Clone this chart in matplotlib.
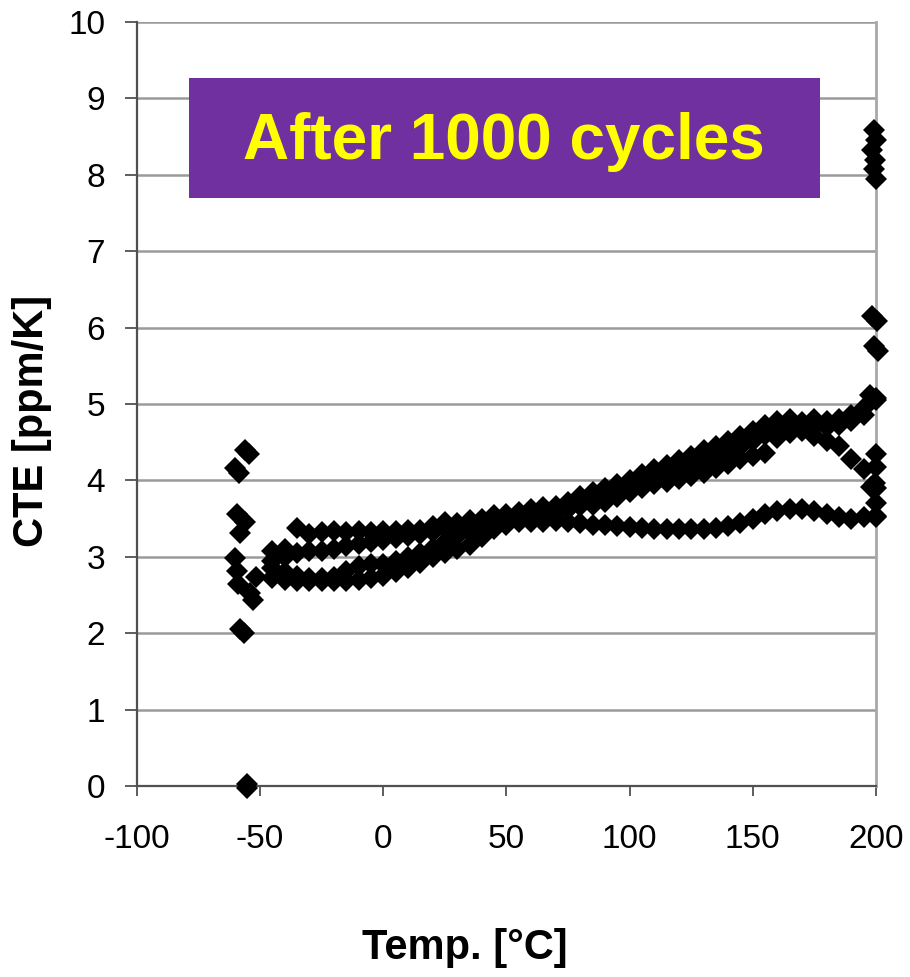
import numpy as np
import matplotlib
matplotlib.use("Agg")
import matplotlib.pyplot as plt
from matplotlib.patches import Rectangle

plt.rcParams['font.family'] = ['Liberation Sans', 'DejaVu Sans']
plt.rcParams['axes.unicode_minus'] = False

# temperature grid of the measured curves [°C]
temps = [-45, -40, -35, -30, -25, -20, -15, -10, -5, 0,
         5, 10, 15, 20, 25, 30, 35, 40, 45, 50,
         55, 60, 65, 70, 75, 80, 85, 90, 95, 100,
         105, 110, 115, 120, 125, 130, 135, 140, 145, 150,
         155, 160, 165, 170, 175, 180, 185, 190, 195, 200]

# upper curve
cte_a = [3.08, 3.10, 3.38, 3.30, 3.32, 3.34, 3.33, 3.34, 3.33, 3.34,
         3.34, 3.35, 3.35, 3.40, 3.45, 3.44, 3.48, 3.50, 3.55, 3.56,
         3.58, 3.62, 3.65, 3.66, 3.72, 3.80, 3.85, 3.90, 3.95, 4.00,
         4.08, 4.15, 4.20, 4.27, 4.32, 4.40, 4.45, 4.52, 4.58, 4.65,
         4.72, 4.78, 4.80, 4.76, 4.80, 4.78, 4.80, 4.85, 4.95, 5.08]

# second curve (turns down near 200)
cte_d = [2.95, 3.00, 3.05, 3.07, 3.08, 3.10, 3.14, 3.17, 3.20, 3.22,
         3.25, 3.27, 3.30, 3.33, 3.36, 3.40, 3.42, 3.45, 3.48, 3.50,
         3.52, 3.55, 3.56, 3.58, 3.62, 3.66, 3.68, 3.72, 3.78, 3.85,
         3.90, 3.95, 3.98, 4.02, 4.06, 4.10, 4.16, 4.22, 4.28, 4.32,
         4.36, 4.55, 4.62, 4.65, 4.58, 4.52, 4.45, 4.28, 4.15, 3.90]

# third curve
cte_e = [2.85, 2.80, 2.75, 2.72, 2.72, 2.74, 2.82, 2.88, 2.90, 2.90,
         2.95, 3.00, 3.05, 3.12, 3.20, 3.27, 3.33, 3.40, 3.45, 3.48,
         3.50, 3.52, 3.55, 3.58, 3.62, 3.70, 3.76, 3.82, 3.87, 3.92,
         3.98, 4.05, 4.10, 4.15, 4.20, 4.26, 4.32, 4.38, 4.44, 4.52,
         4.60, 4.68, 4.70, 4.72, 4.70, 4.70, 4.72, 4.78, 4.85, np.nan]

# lower curve
cte_b = [2.72, 2.70, 2.68, 2.68, 2.68, 2.68, 2.68, 2.70, 2.72, 2.75,
         2.80, 2.85, 2.92, 3.00, 3.05, 3.10, 3.16, 3.26, 3.36, 3.42,
         3.46, 3.46, 3.45, 3.47, 3.46, 3.44, 3.42, 3.42, 3.40, 3.39,
         3.38, 3.37, 3.37, 3.36, 3.36, 3.37, 3.38, 3.40, 3.44, 3.50,
         3.56, 3.60, 3.63, 3.63, 3.60, 3.56, 3.52, 3.50, 3.52, 3.54]

# scattered points at the temperature extremes
end_temps = [-56, -54.5, -60, -58.5, -59.5, -56, -58, -60, -59.5, -59, -54, -53, -51.5,
             -58, -56.5, -55.5, -55.5,
             199, 200, 198.5, 199.5, 199, 200, 198.5, 200.5, 199, 201, 197.5, 200,
             200, 200, 199.5, 198, 200, 200]
end_cte = [4.40, 4.34, 4.16, 4.10, 3.56, 3.45, 3.31, 2.98, 2.82, 2.65, 2.52, 2.43, 2.74,
           2.06, 2.00, 0.03, -0.03,
           8.58, 8.45, 8.33, 8.20, 8.08, 7.95, 6.15, 6.08, 5.76, 5.70, 5.12, 5.05,
           4.35, 4.17, 3.96, 3.91, 3.70, 3.52]

fig = plt.figure(figsize=(9.1, 9.77), dpi=100)
ax = fig.add_axes([0.1505, 0.1955, 0.8121, 0.782])

mk = dict(marker='D', linestyle='none', color='black', markersize=11.3,
          markeredgewidth=0, clip_on=False, zorder=5)
for vals in [cte_a, cte_d, cte_e, cte_b]:
    ax.plot(temps, vals, **mk)
ax.plot(end_temps, end_cte, **mk)

ax.set_xlim(-100, 200)
ax.set_ylim(0, 10)
ax.set_xticks([-100, -50, 0, 50, 100, 150, 200])
ax.set_yticks(range(0, 11))

ax.yaxis.grid(True, color='#9a9a9a', linewidth=1.8)
ax.set_axisbelow(True)

for s in ['left', 'bottom']:
    ax.spines[s].set_color('#505050')
    ax.spines[s].set_linewidth(1.6)
ax.spines['top'].set_visible(False)
ax.spines['right'].set_color('#a8a8a8')
ax.spines['right'].set_linewidth(2)

ax.tick_params(axis='both', direction='out', color='#505050', width=1.3,
               labelsize=24, labelcolor='black')
ax.tick_params(axis='y', length=9, pad=14)
ax.tick_params(axis='x', length=7.5, pad=20)

ax.set_xlabel('Temp. [°C]', fontsize=30, fontweight='bold')
ax.set_ylabel('CTE [ppm/K]', fontsize=30, fontweight='bold')
ax.xaxis.set_label_coords(0.444, -0.186)
ax.yaxis.set_label_coords(-0.115, 0.478)

# purple title box
box = Rectangle((0.0704, 0.7696), 0.8538, 0.1571, transform=ax.transAxes,
                facecolor='#7030A0', edgecolor='none', zorder=6)
ax.add_patch(box)
ax.text(0.497, 0.843, 'After 1000 cycles', transform=ax.transAxes,
        ha='center', va='center', fontsize=46, fontweight='bold',
        color='#FFFF00', zorder=7)

fig.savefig('out.png', dpi=100)
